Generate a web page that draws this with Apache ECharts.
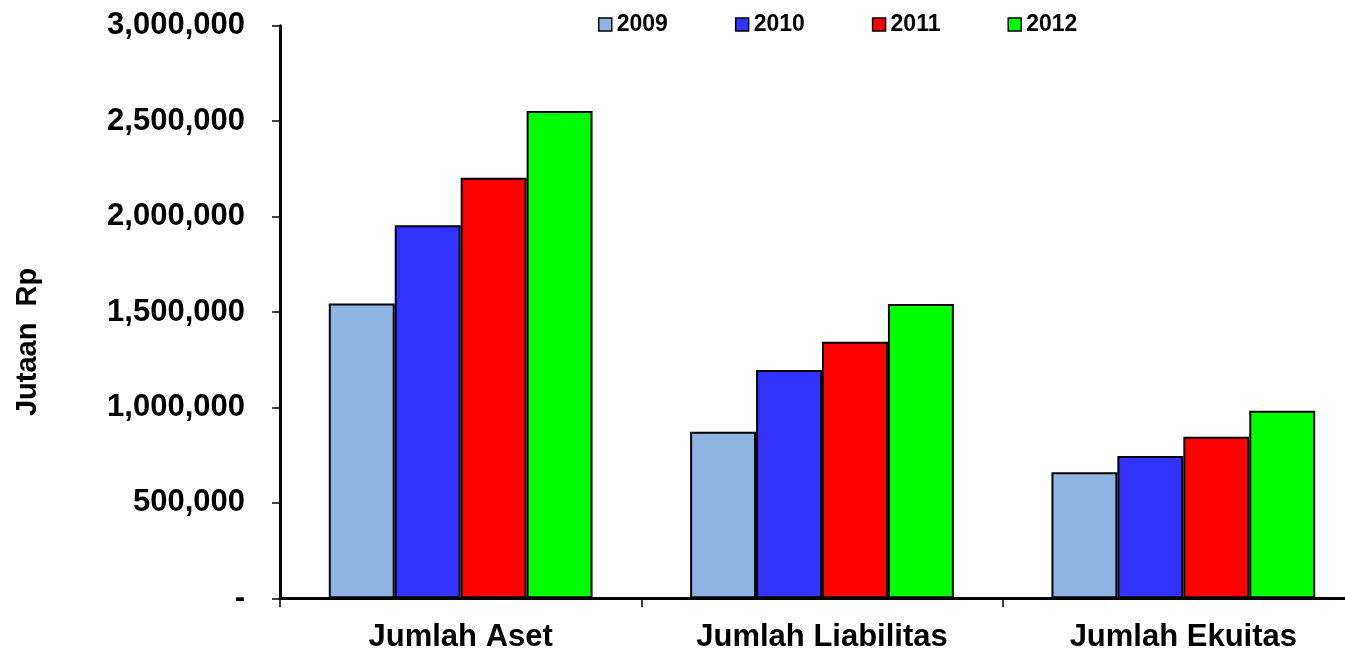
<!DOCTYPE html>
<html>
<head>
<meta charset="utf-8">
<script src="https://cdn.jsdelivr.net/npm/echarts@6/dist/echarts.min.js"></script>
<style>
html,body{margin:0;padding:0;background:#fff;overflow:hidden;}
#chart{width:1345px;height:649px;}
</style>
</head>
<body>
<div id="chart"></div>
<script>
const categories = ['Jumlah Aset', 'Jumlah Liabilitas', 'Jumlah Ekuitas'];
const seriesNames = ['2009', '2010', '2011', '2012'];
const values2009 = [1545000, 873000, 660000];
const values2010 = [1955000, 1196000, 745000];
const values2011 = [2203000, 1344000, 847000];
const values2012 = [2553000, 1542000, 983000];
const colors = ['#8EB4E3', '#3333FF', '#FF0000', '#00FF00'];
const yTicks = { min: 0, max: 3000000, interval: 500000 };
const yAxisTitle = 'Jutaan  Rp';

const allValues = [values2009, values2010, values2011, values2012];
const FONT = '"Liberation Sans", Arial, sans-serif';

const chart = echarts.init(document.getElementById('chart'));
chart.setOption({
  animation: false,
  backgroundColor: '#ffffff',
  grid: { left: 280, width: 1084, top: 25.7, height: 572.6, containLabel: false, outerBoundsMode: 'none' },
  legend: {
    left: 598, top: 13, padding: 0,
    itemWidth: 13, itemHeight: 13, itemGap: 67,
    icon: 'rect',
    itemStyle: { borderColor: '#000', borderWidth: 1.5 },
    textStyle: { fontFamily: FONT, fontWeight: 'bold', fontSize: 23, color: '#000' },
    data: seriesNames
  },
  xAxis: {
    type: 'category',
    data: categories,
    axisLine: { lineStyle: { color: '#000', width: 3 } },
    axisTick: { show: true, length: 9, lineStyle: { color: '#000', width: 1.5 } },
    axisLabel: { margin: 24, fontFamily: FONT, fontWeight: 'bold', fontSize: 31, color: '#000' },
    splitLine: { show: false }
  },
  yAxis: {
    type: 'value',
    min: yTicks.min, max: yTicks.max, interval: yTicks.interval,
    name: yAxisTitle,
    nameLocation: 'middle',
    nameGap: 238,
    nameTextStyle: { fontFamily: FONT, fontWeight: 'bold', fontSize: 29, color: '#000', padding: [0, 60, 0, 0] },
    axisLine: { show: true, lineStyle: { color: '#000', width: 3 } },
    axisTick: { show: true, length: 8, lineStyle: { color: '#000', width: 1.5 } },
    axisLabel: {
      margin: 35, fontFamily: FONT, fontWeight: 'bold', fontSize: 31, color: '#000',
      formatter: v => v === 0 ? '-' : v.toLocaleString('en-US')
    },
    splitLine: { show: false }
  },
  series: seriesNames.map((n, i) => ({
    name: n,
    type: 'bar',
    data: allValues[i],
    barGap: '0%',
    barCategoryGap: '27%',
    itemStyle: { color: colors[i], borderColor: '#000', borderWidth: 2 }
  }))
});
</script>
</body>
</html>
